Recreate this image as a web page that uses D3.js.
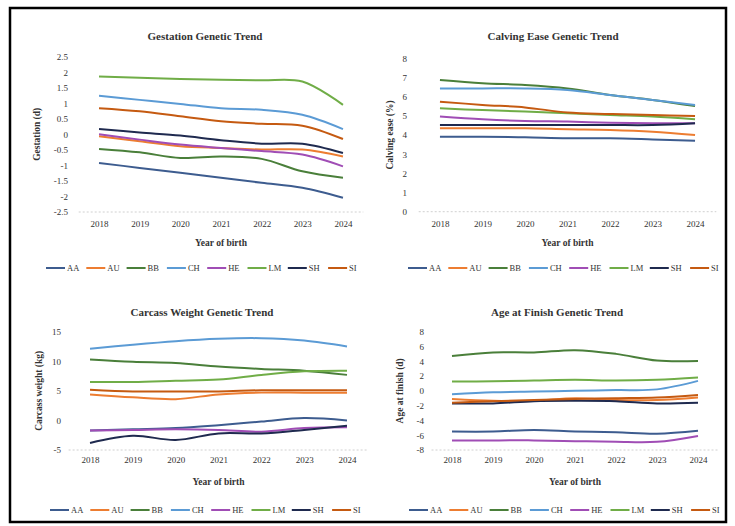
<!DOCTYPE html>
<html>
<head>
<meta charset="utf-8">
<script src="https://cdn.jsdelivr.net/npm/d3@7"></script>
<style>
  body { margin: 0; background: #fff; }
  svg text { font-family: "Liberation Serif", "DejaVu Serif", serif; fill: #333; }
</style>
</head>
<body>
<div id="chart"></div>
<script>
// Breed genetic trends, 2018-2024

const years = ["2018", "2019", "2020", "2021", "2022", "2023", "2024"];
const breeds = ["AA", "AU", "BB", "CH", "HE", "LM", "SH", "SI"];
const breedColors = ["#3d5c8f", "#ed7d31", "#4a7f3a", "#5b9bd5", "#a04db5", "#70ad47", "#1f2a4f", "#c55a11"];

// one row per breed, same order as `breeds`
const gestation = [
  [-0.92, -1.08, -1.24, -1.40, -1.56, -1.72, -2.04],
  [-0.06, -0.22, -0.38, -0.44, -0.49, -0.49, -0.71],
  [-0.47, -0.58, -0.76, -0.71, -0.79, -1.19, -1.40],
  [1.24, 1.11, 0.98, 0.84, 0.79, 0.63, 0.17],
  [0.00, -0.17, -0.33, -0.44, -0.54, -0.65, -1.03],
  [1.86, 1.82, 1.78, 1.76, 1.74, 1.70, 0.95],
  [0.17, 0.06, -0.04, -0.19, -0.30, -0.30, -0.60],
  [0.84, 0.74, 0.58, 0.42, 0.34, 0.28, -0.15]
];
const calvingEase = [
  [3.91, 3.91, 3.88, 3.83, 3.83, 3.77, 3.70],
  [4.35, 4.35, 4.35, 4.30, 4.26, 4.17, 4.00],
  [6.87, 6.70, 6.61, 6.43, 6.09, 5.83, 5.51],
  [6.43, 6.43, 6.43, 6.35, 6.09, 5.83, 5.57],
  [4.96, 4.82, 4.73, 4.70, 4.64, 4.61, 4.61],
  [5.39, 5.30, 5.22, 5.13, 5.04, 4.96, 4.82],
  [4.52, 4.52, 4.52, 4.52, 4.52, 4.52, 4.61],
  [5.74, 5.57, 5.44, 5.17, 5.10, 5.04, 4.99]
];
const carcassWeight = [
  [-1.7, -1.5, -1.3, -0.8, -0.2, 0.4, 0.0],
  [4.4, 3.9, 3.6, 4.4, 4.7, 4.7, 4.7],
  [10.3, 9.9, 9.7, 9.1, 8.7, 8.4, 7.7],
  [12.1, 12.8, 13.4, 13.8, 13.9, 13.5, 12.5],
  [-1.7, -1.6, -1.5, -1.6, -1.9, -1.3, -1.15],
  [6.5, 6.5, 6.7, 6.9, 7.7, 8.3, 8.4],
  [-3.8, -2.6, -3.3, -2.2, -2.2, -1.6, -0.9],
  [5.2, 4.9, 4.9, 4.9, 5.1, 5.1, 5.1]
];
const ageAtFinish = [
  [-5.5, -5.5, -5.3, -5.5, -5.6, -5.8, -5.4],
  [-1.1, -1.35, -1.35, -1.0, -1.25, -1.25, -0.9],
  [4.7, 5.2, 5.2, 5.5, 5.0, 4.1, 4.05],
  [-0.45, -0.2, -0.1, 0.0, 0.1, 0.2, 1.35],
  [-6.7, -6.7, -6.7, -6.8, -6.9, -6.9, -6.1],
  [1.26, 1.3, 1.4, 1.5, 1.4, 1.5, 1.8],
  [-1.7, -1.7, -1.4, -1.35, -1.4, -1.7, -1.6],
  [-1.6, -1.4, -1.25, -1.1, -1.0, -0.9, -0.55]
];

const gestationTicks = [-2.5, -2, -1.5, -1, -0.5, 0, 0.5, 1, 1.5, 2, 2.5];
const calvingTicks = [0, 1, 2, 3, 4, 5, 6, 7, 8];
const carcassTicks = [-5, 0, 5, 10, 15];
const ageTicks = [-8, -6, -4, -2, 0, 2, 4, 6, 8];

const width = 735;
const height = 526;

const svg = d3.select("#chart")
  .append("svg")
  .attr("width", width)
  .attr("height", height);

// outer frame
svg.append("rect")
  .attr("x", 10).attr("y", 8)
  .attr("width", 716).attr("height", 514)
  .attr("fill", "none")
  .attr("stroke", "#000")
  .attr("stroke-width", 2.5);

const panels = [
  { title: "Gestation Genetic Trend", yTitle: "Gestation (d)", data: gestation, ticks: gestationTicks,
    x0: 78.7, x1: 363.3, yTop: 56.7, yBot: 212, tickX: 68, yTitleX: 40, titleX: 205, titleY: 40,
    xLabY: 230, xTitleY: 246, legY: 268, legX: 46 },
  { title: "Calving Ease Genetic Trend", yTitle: "Calving ease (%)", data: calvingEase, ticks: calvingTicks,
    x0: 418.7, x1: 716.3, yTop: 58.3, yBot: 211.7, tickX: 407, yTitleX: 393, titleX: 553, titleY: 40,
    xLabY: 230, xTitleY: 246, legY: 268, legX: 408 },
  { title: "Carcass Weight Genetic Trend", yTitle: "Carcass weight (kg)", data: carcassWeight, ticks: carcassTicks,
    x0: 68.6, x1: 368.4, yTop: 331.7, yBot: 450, tickX: 61, yTitleX: 42, titleX: 202, titleY: 316,
    xLabY: 466, xTitleY: 485, legY: 510, legX: 50 },
  { title: "Age at Finish Genetic Trend", yTitle: "Age at finish (d)", data: ageAtFinish, ticks: ageTicks,
    x0: 431.5, x1: 718.5, yTop: 331.7, yBot: 450, tickX: 424, yTitleX: 403, titleX: 557, titleY: 316,
    xLabY: 466, xTitleY: 485, legY: 510, legX: 409 }
];

panels.forEach(p => {
  const g = svg.append("g");

  const x = d3.scalePoint()
    .domain(years)
    .range([p.x0, p.x1])
    .padding(0.5);

  const y = d3.scaleLinear()
    .domain([d3.min(p.ticks), d3.max(p.ticks)])
    .range([p.yBot, p.yTop]);

  // chart title
  g.append("text")
    .attr("x", p.titleX)
    .attr("y", p.titleY)
    .attr("text-anchor", "middle")
    .attr("font-size", "11px")
    .attr("font-weight", "bold")
    .text(p.title);

  // dotted baseline
  g.append("line")
    .attr("x1", p.x0).attr("x2", p.x1)
    .attr("y1", p.yBot).attr("y2", p.yBot)
    .attr("stroke", "#d0d0d0")
    .attr("stroke-width", 1)
    .attr("stroke-dasharray", "2,2");

  // y tick labels (Excel-style: plain hyphen, no trailing zeros)
  const yAxis = g.append("g")
    .attr("transform", `translate(${p.tickX + 3},0)`)
    .call(d3.axisLeft(y).tickValues(p.ticks).tickFormat(d => String(d)).tickSize(0).tickPadding(3));
  yAxis.select(".domain").remove();
  yAxis.selectAll("text")
    .attr("font-size", "9px")
    .attr("font-family", "Liberation Serif, serif")
    .attr("fill", "#444");

  // x tick labels
  const xAxis = g.append("g")
    .attr("transform", `translate(0,${p.xLabY - 9})`)
    .call(d3.axisBottom(x).tickSize(0).tickPadding(0));
  xAxis.select(".domain").remove();
  xAxis.selectAll("text")
    .attr("font-size", "9px")
    .attr("font-family", "Liberation Serif, serif")
    .attr("fill", "#444");

  // axis titles
  g.append("text")
    .attr("x", (p.x0 + p.x1) / 2)
    .attr("y", p.xTitleY)
    .attr("text-anchor", "middle")
    .attr("font-size", "9.5px")
    .attr("font-weight", "bold")
    .text("Year of birth");

  g.append("text")
    .attr("transform", `translate(${p.yTitleX},${(p.yTop + p.yBot) / 2}) rotate(-90)`)
    .attr("text-anchor", "middle")
    .attr("font-size", "9.5px")
    .attr("font-weight", "bold")
    .text(p.yTitle);

  // series
  const line = d3.line()
    .x((d, i) => x(years[i]))
    .y(d => y(d))
    .curve(d3.curveCatmullRom.alpha(0.5));

  g.selectAll(".series")
    .data(p.data)
    .enter()
    .append("path")
    .attr("class", "series")
    .attr("d", d => line(d))
    .attr("fill", "none")
    .attr("stroke", (d, i) => breedColors[i])
    .attr("stroke-width", 2);

  // legend
  const leg = g.selectAll(".legend-item")
    .data(breeds)
    .enter()
    .append("g")
    .attr("class", "legend-item")
    .attr("transform", (d, i) => `translate(${p.legX + i * 40.3},${p.legY})`);

  leg.append("line")
    .attr("x1", 0).attr("x2", 19)
    .attr("y1", 0).attr("y2", 0)
    .attr("stroke", (d, i) => breedColors[i])
    .attr("stroke-width", 2);

  leg.append("text")
    .attr("x", 21)
    .attr("y", 3)
    .attr("font-size", "8.5px")
    .attr("fill", "#444")
    .text(d => d);
});
</script>
</body>
</html>
